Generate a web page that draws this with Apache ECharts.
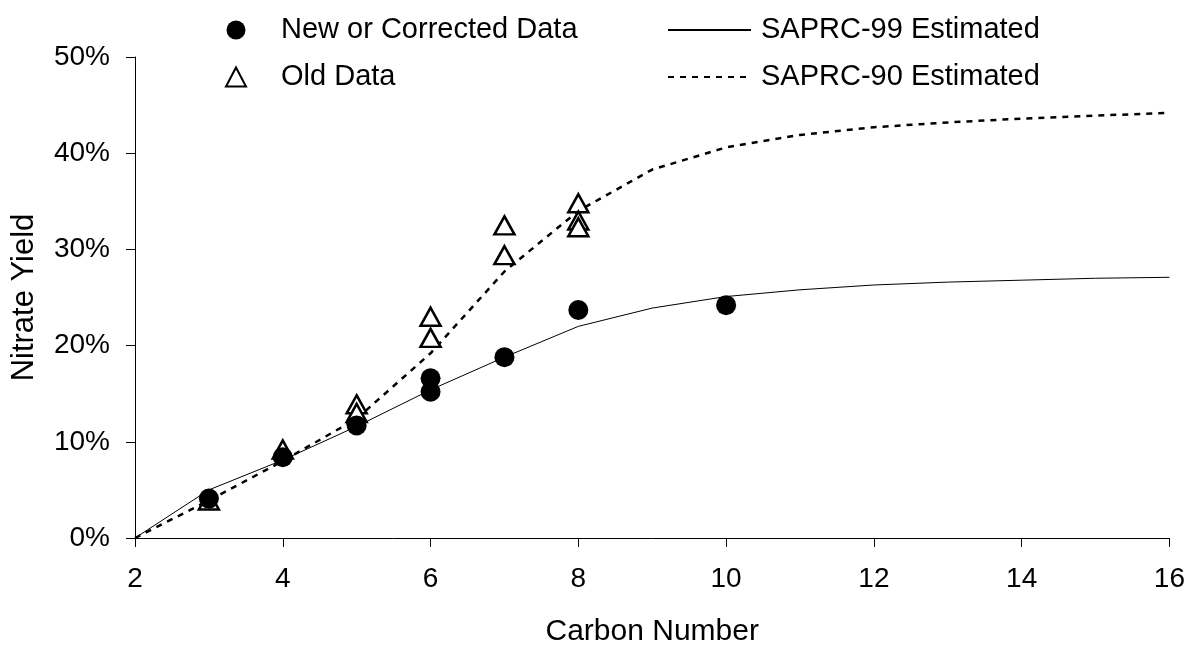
<!DOCTYPE html>
<html lang="en">
<head>
    <meta charset="UTF-8">
    <title>Nitrate Yield vs Carbon Number</title>
    <script src="https://cdn.jsdelivr.net/npm/echarts@6/dist/echarts.min.js"></script>
    <style>
        body { margin: 0; padding: 0; background: #fff; }
        #chart { width: 1188px; height: 652px; }
    </style>
</head>
<body>
    <div id="chart"></div>
    <script>
        // data
        var carbons = [2, 3, 4, 5, 6, 7, 8, 9, 10, 11, 12, 13, 14, 15, 16];
        var saprc99 = [0, 0.050, 0.081, 0.116, 0.154, 0.188, 0.220, 0.239, 0.251, 0.258, 0.263, 0.266, 0.268, 0.270, 0.271];
        var saprc90 = [0, 0.039, 0.080, 0.124, 0.192, 0.277, 0.340, 0.383, 0.406, 0.419, 0.427, 0.432, 0.436, 0.439, 0.442];

        var newX = [3, 4, 5, 6, 6, 7, 8, 10];
        var newY = [0.041, 0.084, 0.117, 0.166, 0.152, 0.188, 0.237, 0.242];

        var oldX = [3, 4, 5, 5, 6, 6, 7, 7, 8, 8, 8];
        var oldY = [0.039, 0.092, 0.139, 0.130, 0.230, 0.208, 0.325, 0.294, 0.348, 0.330, 0.323];

        function pairs(xs, ys) {
            return xs.map(function (x, i) { return [x, ys[i]]; });
        }

        var font = '"Liberation Sans", Arial, sans-serif';
        var chart = echarts.init(document.getElementById('chart'));

        chart.setOption({
            animation: false,
            backgroundColor: '#fff',
            textStyle: { fontFamily: font, color: '#000' },
            grid: { left: 135, right: 17, top: 57, bottom: 107, containLabel: false },
            legend: [{
                data: ['New or Corrected Data', 'Old Data'],
                orient: 'vertical',
                left: 220, top: 10,
                itemWidth: 20, itemHeight: 19, itemGap: 17,
                textStyle: { fontSize: 29, lineHeight: 30, fontFamily: font, color: '#000', padding: [0, 0, 0, 30] }
            }, {
                data: ['SAPRC-99 Estimated', 'SAPRC-90 Estimated'],
                orient: 'vertical',
                left: 662, top: 10,
                itemWidth: 83, itemHeight: 19, itemGap: 17,
                itemStyle: { opacity: 0 },
                textStyle: { fontSize: 29, lineHeight: 30, fontFamily: font, color: '#000', padding: [0, 0, 0, 5] }
            }],
            xAxis: {
                type: 'value', min: 2, max: 16, interval: 2,
                name: 'Carbon Number', nameLocation: 'middle', nameGap: 79,
                nameTextStyle: { fontSize: 30, fontFamily: font, color: '#000' },
                axisLine: { onZero: false, lineStyle: { color: '#000', width: 1 } },
                axisTick: { show: true, length: 9, lineStyle: { color: '#000' } },
                axisLabel: { fontSize: 28, margin: 27, color: '#000', fontFamily: font },
                splitLine: { show: false }
            },
            yAxis: {
                type: 'value', min: 0, max: 0.5, interval: 0.1,
                name: 'Nitrate Yield', nameLocation: 'middle', nameGap: 95,
                nameTextStyle: { fontSize: 31, fontFamily: font, color: '#000' },
                axisLine: { show: true, lineStyle: { color: '#000', width: 1 } },
                axisTick: { show: true, length: 9, lineStyle: { color: '#000' } },
                axisLabel: {
                    fontSize: 28, margin: 25, color: '#000', fontFamily: font,
                    formatter: function (v) { return Math.round(v * 100) + '%'; }
                },
                splitLine: { show: false }
            },
            series: [{
                name: 'SAPRC-99 Estimated',
                type: 'line',
                data: pairs(carbons, saprc99),
                showSymbol: false, symbol: 'none',
                lineStyle: { color: '#000', width: 1 },
                itemStyle: { color: '#000' },
                z: 2
            }, {
                name: 'SAPRC-90 Estimated',
                type: 'line',
                data: pairs(carbons, saprc90),
                showSymbol: false, symbol: 'none',
                lineStyle: { color: '#000', width: 2.5, type: [6, 6] },
                itemStyle: { color: '#000' },
                z: 2
            }, {
                name: 'Old Data',
                type: 'scatter',
                data: pairs(oldX, oldY),
                symbol: 'triangle', symbolSize: [20, 18],
                itemStyle: { color: '#fff', borderColor: '#000', borderWidth: 2.5, opacity: 1 },
                z: 3
            }, {
                name: 'New or Corrected Data',
                type: 'scatter',
                data: pairs(newX, newY),
                symbol: 'circle', symbolSize: 20,
                itemStyle: { color: '#000', opacity: 1 },
                z: 4
            }]
        });
    </script>
</body>
</html>
